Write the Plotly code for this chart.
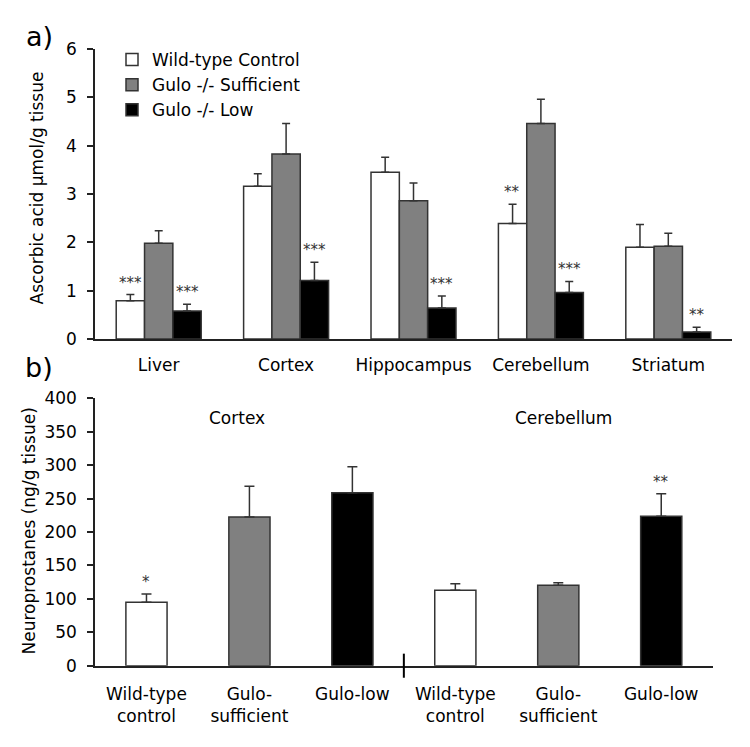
import plotly.graph_objects as go

# ---------------- data: panel a ----------------
tissues = ["Liver", "Cortex", "Hippocampus", "Cerebellum", "Striatum"]
series_names = ["Wild-type Control", "Gulo -/- Sufficient", "Gulo -/- Low"]
wt_ctrl = [0.79, 3.16, 3.45, 2.39, 1.90]
wt_ctrl_err = [0.13, 0.26, 0.31, 0.40, 0.47]
gulo_suff = [1.98, 3.83, 2.86, 4.46, 1.92]
gulo_suff_err = [0.26, 0.63, 0.37, 0.50, 0.27]
gulo_low = [0.58, 1.21, 0.64, 0.96, 0.145]
gulo_low_err = [0.14, 0.38, 0.25, 0.23, 0.10]
sig_wt = ["***", "", "", "**", ""]
sig_suff = ["", "", "", "", ""]
sig_low = ["***", "***", "***", "***", "**"]

# ---------------- data: panel b ----------------
np_groups = ["Cortex", "Cerebellum"]
np_labels = ["Wild-type<br>control", "Gulo-<br>sufficient", "Gulo-low",
             "Wild-type<br>control", "Gulo-<br>sufficient", "Gulo-low"]
np_values = [94.8, 222.4, 258.8, 112.8, 120.3, 223.5]
np_err = [12.5, 45.9, 38.9, 9.9, 3.9, 33.8]
np_sig = ["*", "", "", "", "", "**"]

FONT = "DejaVu Sans"
fills = ["#ffffff", "#808080", "#000000"]
EDGE = "#333333"

fig = go.Figure()

a_vals = [wt_ctrl, gulo_suff, gulo_low]
a_errs = [wt_ctrl_err, gulo_suff_err, gulo_low_err]
for name, vals, errs, col in zip(series_names, a_vals, a_errs, fills):
    fig.add_trace(go.Bar(
        x=tissues, y=vals, name=name, xaxis="x", yaxis="y",
        marker=dict(color=col, line=dict(color=EDGE, width=1.5)),
        error_y=dict(type="data", array=errs, arrayminus=[0] * len(errs),
                     symmetric=False, color=EDGE, thickness=1.5, width=4),
    ))

np_x = list(range(len(np_values)))
np_colors = [fills[i % 3] for i in range(len(np_values))]
fig.add_trace(go.Bar(
    x=np_x, y=np_values, xaxis="x2", yaxis="y2", showlegend=False,
    width=0.4,
    marker=dict(color=np_colors, line=dict(color=EDGE, width=1.5)),
    error_y=dict(type="data", array=np_err, arrayminus=[0] * len(np_err),
                 symmetric=False, color=EDGE, thickness=1.5, width=5),
))

annotations = []
offsets = [-1, 0, 1]
for sigs, vals, errs, off in zip([sig_wt, sig_suff, sig_low], a_vals, a_errs, offsets):
    for i, s in enumerate(sigs):
        if s:
            annotations.append(dict(
                x=i + off * 0.2233, y=vals[i] + errs[i], xref="x", yref="y",
                text=s, showarrow=False, xanchor="center", yanchor="middle", yshift=12,
                font=dict(family=FONT, size=15, color="#333333")))
for i, s in enumerate(np_sig):
    if s:
        annotations.append(dict(
            x=np_x[i], y=np_values[i] + np_err[i], xref="x2", yref="y2",
            text=s, showarrow=False, xanchor="center", yanchor="middle", yshift=12,
            font=dict(family=FONT, size=15, color="#333333")))

for gx, g in zip([0.88, 4.05], np_groups):
    annotations.append(dict(x=gx, y=371, xref="x2", yref="y2", text=g,
                            xanchor="center", yanchor="middle", showarrow=False,
                            font=dict(family=FONT, size=17, color="#000")))

def paper_note(px, py, text, size, angle=0):
    return dict(x=px / 750, y=1 - py / 747, xref="paper", yref="paper", text=text,
                textangle=angle, xanchor="center", yanchor="middle", showarrow=False,
                font=dict(family=FONT, size=size, color="#000"))

annotations.append(paper_note(39, 37, "a)", 27))
annotations.append(paper_note(39, 367, "b)", 27))
annotations.append(paper_note(36, 188.5, "Ascorbic acid µmol/g tissue", 17, -90))
annotations.append(paper_note(28, 531.5, "Neuroprostanes (ng/g tissue)", 17, -90))

shapes = [dict(type="line", xref="x2", yref="y2 domain", x0=2.5, x1=2.5, y0=-0.045, y1=0.045,
               line=dict(color="#000", width=2))]

axis_common = dict(showline=True, linecolor="#222", linewidth=1.5, showgrid=False,
                   zeroline=False, automargin=False,
                   tickfont=dict(family=FONT, size=17, color="#000"))

fig.update_layout(
    template="none",
    width=750, height=747,
    margin=dict(l=0, r=0, t=0, b=0, pad=0),
    paper_bgcolor="white", plot_bgcolor="white",
    barmode="group", bargap=0.333, bargroupgap=0,
    font=dict(family=FONT, size=17, color="#000"),
    xaxis=dict(domain=[95 / 750, 732 / 750], anchor="y", ticks="",
               range=[-0.5, 4.5], ticklabelstandoff=10, **axis_common),
    yaxis=dict(domain=[(747 - 339) / 747, (747 - 49) / 747], anchor="x",
               range=[0, 6], dtick=1, ticks="outside", ticklen=6, tickwidth=1.5,
               tickcolor="#222", ticklabelstandoff=7, **axis_common),
    xaxis2=dict(domain=[95 / 750, 712.7 / 750], anchor="y2", ticks="",
                range=[-0.5, 5.5], tickmode="array", tickvals=np_x, ticktext=np_labels,
                ticklabelstandoff=12, **axis_common),
    yaxis2=dict(domain=[(747 - 665.7) / 747, (747 - 398.3) / 747], anchor="x2",
                range=[0, 400], dtick=50, ticks="outside", ticklen=6, tickwidth=1.5,
                tickcolor="#222", ticklabelstandoff=7, **axis_common),
    legend=dict(x=112 / 750, y=1 - 42 / 747, xanchor="left", yanchor="top",
                bgcolor="rgba(0,0,0,0)", borderwidth=0,
                font=dict(family=FONT, size=17, color="#000"),
                itemwidth=30, traceorder="normal"),
    annotations=annotations,
    shapes=shapes,
)

fig.write_html("out.html", config={"displayModeBar": False},
               post_script="document.body.style.margin='0px';")
